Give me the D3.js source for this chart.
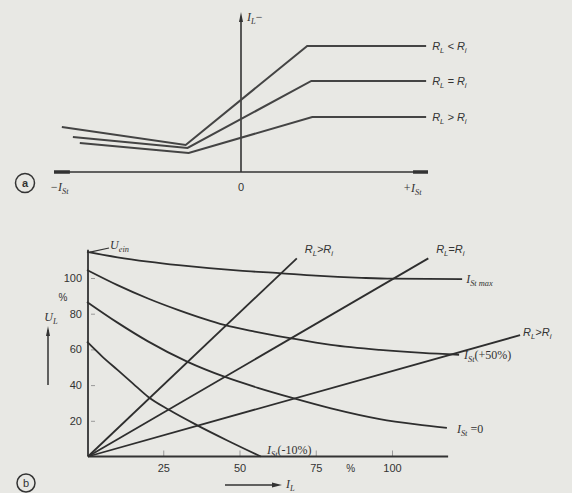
<!DOCTYPE html>
<html>
<head>
<meta charset="utf-8">
<script src="https://cdn.jsdelivr.net/npm/d3@7"></script>
<style>
  body { margin: 0; background: #e8e8e4; }
  svg { display: block; }
</style>
</head>
<body>
<script>
// ---- panel a: load current vs. interference current (arbitrary units) ----
const aLabels = ["R_{L} < R_{i}", "R_{L} = R_{i}", "R_{L} > R_{i}"];
const aLow = [[-0.958, 0.281], [-0.296, 0.169], [0.354, 0.788], [0.99, 0.788]];
const aEqual = [[-0.899, 0.219], [-0.286, 0.15], [0.376, 0.569], [0.99, 0.569]];
const aHigh = [[-0.862, 0.181], [-0.28, 0.119], [0.381, 0.344], [0.99, 0.344]];
const aSeries = [aLow, aEqual, aHigh];

// ---- panel b: U_L (%) vs. I_L (%) ----
const bXTicks = [25, 50, 75, 100];
const bYTicks = [20, 40, 60, 80, 100];
const istMax = [[0, 114.6], [10, 111.6], [20, 109.2], [30, 107.2], [40, 105.5], [50, 104.1],
  [63, 102.7], [75, 101.3], [90, 100.1], [100, 99.6], [123, 99.4]];
const istPlus50 = [[0, 104.5], [10, 96], [20, 88.5], [30, 82], [45, 73.7], [55, 70],
  [66, 66.5], [80, 62.5], [96, 59.7], [110, 58], [122, 57]];
const istZero = [[0, 86.6], [10, 75], [20, 64.5], [33, 53], [45, 44.7], [56, 38.5],
  [67, 33], [80, 27], [96, 21], [108, 18], [118, 16]];
const istMinus10 = [[0, 64.3], [5, 56], [10, 48.5], [15, 41], [20, 33.5], [27, 26],
  [36, 17.6], [46, 9], [57, 0]];
const bCurves = [istMax, istPlus50, istZero, istMinus10];
const bCurveLabels = ["I_{St max}", "I_{St}(+50%)", "I_{St} =0", "I_{St}(-10%)"];
// load lines from the origin, end points
const loadLineEnds = [[68.8, 111], [111.9, 111], [142, 68]];
const loadLineLabels = ["R_{L}>R_{i}", "R_{L}=R_{i}", "R_{L}>R_{i}"];

const width = 572, height = 493;
const ink = "#333";

const svg = d3.select("body").append("svg")
  .attr("width", width)
  .attr("height", height);

// text with _{sub} parts
function richText(g, x, y, str, opts) {
  opts = opts || {};
  const size = opts.size || 11;
  const t = g.append("text")
    .attr("x", x).attr("y", y)
    .attr("fill", ink)
    .attr("font-family", opts.serif ? "'Liberation Serif', serif" : "'Liberation Sans', Arial, sans-serif")
    .attr("font-style", opts.italic ? "italic" : "normal")
    .attr("font-size", size)
    .attr("text-anchor", opts.anchor || "start");
  const parts = str.split(/_\{([^}]*)\}/);
  let shifted = false;
  parts.forEach((p, i) => {
    if (p === "") return;
    const sub = i % 2 === 1;
    const s = t.append("tspan").text(p);
    if (sub) {
      s.attr("font-size", size * 0.7).attr("dy", shifted ? 0 : 3);
      shifted = true;
    } else {
      if (shifted) s.attr("dy", -3);
      shifted = false;
      if (opts.serif && i > 0) s.attr("font-style", "normal");
    }
  });
  return t;
}

function arrowHead(g, x, y, dir) {
  // small filled triangle pointing in dir ("up" or "right")
  const p = dir === "up"
    ? [[x, y], [x - 2, y + 10], [x + 2, y + 10]]
    : [[x, y], [x - 10, y - 2.5], [x - 10, y + 2.5]];
  g.append("path").attr("d", d3.line()(p) + "Z").attr("fill", ink);
}

// ================= panel a =================
const ga = svg.append("g");
const xa = d3.scaleLinear().domain([-1, 1]).range([54, 428]);
const ya = d3.scaleLinear().domain([0, 1]).range([172, 12]);

ga.append("line")
  .attr("x1", xa(-1)).attr("x2", xa(1))
  .attr("y1", ya(0)).attr("y2", ya(0))
  .attr("stroke", ink).attr("stroke-width", 1.6);
// thick ends of the axis
[[-1, -0.915], [0.92, 1]].forEach(r => {
  ga.append("line")
    .attr("x1", xa(r[0])).attr("x2", xa(r[1]))
    .attr("y1", ya(0)).attr("y2", ya(0))
    .attr("stroke", ink).attr("stroke-width", 3.5);
});
ga.append("line")
  .attr("x1", xa(0)).attr("x2", xa(0))
  .attr("y1", ya(0)).attr("y2", ya(0.97))
  .attr("stroke", ink).attr("stroke-width", 1.6);
arrowHead(ga, xa(0), ya(1), "up");

const lineA = d3.line().x(d => xa(d[0])).y(d => ya(d[1]));
ga.selectAll("path.curve")
  .data(aSeries)
  .enter()
  .append("path")
  .attr("class", "curve")
  .attr("d", lineA)
  .attr("fill", "none")
  .attr("stroke", "#444")
  .attr("stroke-width", 2);

aSeries.forEach((s, i) => {
  const last = s[s.length - 1];
  richText(ga, xa(last[0]) + 6, ya(last[1]) + 4, aLabels[i], { italic: true, size: 11 });
});

richText(ga, xa(0) + 6, 21, "I_{L}\u2212", { serif: true, italic: true, size: 12 });
richText(ga, 50, 191, "\u2212I_{St}", { serif: true, italic: true, size: 12 });
richText(ga, xa(0), 191, "0", { size: 11, anchor: "middle" });
richText(ga, 403, 192, "+I_{St}", { serif: true, italic: true, size: 12 });

ga.append("circle").attr("cx", 25).attr("cy", 183).attr("r", 9.5)
  .attr("fill", "none").attr("stroke", ink).attr("stroke-width", 1.5);
richText(ga, 25, 187, "a", { size: 11, anchor: "middle" }).attr("font-weight", "bold");

// ================= panel b =================
const gb = svg.append("g");
const xb = d3.scaleLinear().domain([0, 100]).range([87, 392]);
const yb = d3.scaleLinear().domain([0, 100]).range([456.5, 278]);

const xAxis = d3.axisBottom(xb).tickValues(bXTicks).tickSizeInner(-6).tickSizeOuter(0).tickPadding(8);
const yAxis = d3.axisLeft(yb).tickValues(bYTicks).tickSizeInner(-7).tickSizeOuter(0).tickPadding(6);

const gx = gb.append("g").attr("transform", `translate(0,${yb(0)})`).call(xAxis);
const gy = gb.append("g").attr("transform", `translate(${xb(0) + 1},0)`).call(yAxis);
[gx, gy].forEach(g => {
  g.select(".domain").remove();
  g.selectAll(".tick line").attr("stroke", "#999").attr("stroke-width", 1);
  g.selectAll(".tick text")
    .attr("fill", ink)
    .attr("font-family", "'Liberation Sans', Arial, sans-serif")
    .attr("font-size", 11);
});
gy.selectAll(".tick line").attr("x1", 3);

// axis lines
gb.append("line")
  .attr("x1", xb(0) + 1).attr("x2", xb(118.4))
  .attr("y1", yb(0)).attr("y2", yb(0))
  .attr("stroke", ink).attr("stroke-width", 1.8);
gb.append("line")
  .attr("x1", xb(0) + 1).attr("x2", xb(0) + 1)
  .attr("y1", yb(0)).attr("y2", yb(115.8))
  .attr("stroke", ink).attr("stroke-width", 1.8);

const lineB = d3.line().x(d => xb(d[0])).y(d => yb(d[1])).curve(d3.curveMonotoneX);
gb.selectAll("path.curve")
  .data(bCurves)
  .enter()
  .append("path")
  .attr("class", "curve")
  .attr("d", lineB)
  .attr("fill", "none")
  .attr("stroke", "#2e2e2e")
  .attr("stroke-width", 1.8);

gb.selectAll("line.load")
  .data(loadLineEnds)
  .enter()
  .append("line")
  .attr("class", "load")
  .attr("x1", xb(0) + 1).attr("y1", yb(0))
  .attr("x2", d => xb(d[0])).attr("y2", d => yb(d[1]))
  .attr("stroke", "#2e2e2e")
  .attr("stroke-width", 1.8);

// labels of load lines
richText(gb, xb(loadLineEnds[0][0]) + 22, yb(loadLineEnds[0][1]) - 5, loadLineLabels[0], { italic: true, size: 11, anchor: "middle" });
richText(gb, xb(loadLineEnds[1][0]) + 22, yb(loadLineEnds[1][1]) - 5, loadLineLabels[1], { italic: true, size: 11, anchor: "middle" });
richText(gb, xb(loadLineEnds[2][0]) + 3, yb(loadLineEnds[2][1]) + 1, loadLineLabels[2], { italic: true, size: 11 });

// labels of curves
richText(gb, xb(123) + 4, yb(istMax[istMax.length - 1][1]) + 4, bCurveLabels[0], { serif: true, italic: true, size: 12 });
richText(gb, xb(122) + 5, yb(istPlus50[istPlus50.length - 1][1]) + 4, bCurveLabels[1], { serif: true, italic: true, size: 12 });
richText(gb, xb(118) + 10, yb(istZero[istZero.length - 1][1]) + 5, bCurveLabels[2], { serif: true, italic: true, size: 12 });
richText(gb, xb(59), yb(0) - 3, bCurveLabels[3], { serif: true, italic: true, size: 12 });

// axis titles
gb.append("line").attr("x1", xb(0) + 3).attr("y1", yb(114.5)).attr("x2", 109).attr("y2", 248)
  .attr("stroke", ink).attr("stroke-width", 1.2);
richText(gb, 110, 249, "U_{ein}", { serif: true, italic: true, size: 12 });
richText(gb, 63, 301, "%", { size: 10, anchor: "middle" });
richText(gb, 51, 321, "U_{L}", { serif: true, italic: true, size: 12, anchor: "middle" });
gb.append("line").attr("x1", 48).attr("x2", 48).attr("y1", 330).attr("y2", 385)
  .attr("stroke", ink).attr("stroke-width", 1.5);
arrowHead(gb, 48, 326, "up");

richText(gb, xb(86.5), 472, "%", { size: 10, anchor: "middle" });
gb.append("line").attr("x1", 225).attr("x2", 274).attr("y1", 485).attr("y2", 485)
  .attr("stroke", ink).attr("stroke-width", 1.5);
arrowHead(gb, 282, 485, "right");
richText(gb, 286, 488, "I_{L}", { serif: true, italic: true, size: 12 });

gb.append("circle").attr("cx", 26).attr("cy", 483).attr("r", 9)
  .attr("fill", "none").attr("stroke", ink).attr("stroke-width", 1.5);
richText(gb, 26, 487, "b", { size: 11, anchor: "middle" });
</script>
</body>
</html>
